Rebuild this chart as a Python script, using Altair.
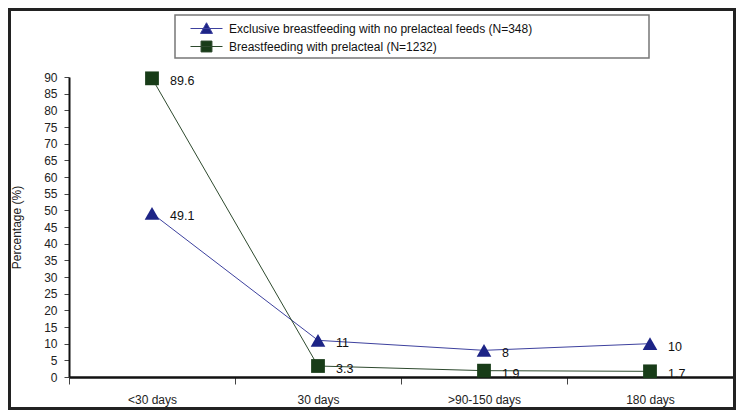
import altair as alt
import pandas as pd

# ---- data ----
categories = ["<30 days", "30 days", ">90-150 days", "180 days"]
series_names = [
    "Exclusive breastfeeding with no prelacteal feeds (N=348)",
    "Breastfeeding with prelacteal (N=1232)",
]
exclusive_pct = [49.1, 11, 8, 10]
exclusive_lbl = ["49.1", "11", "8", "10"]
prelacteal_pct = [89.6, 3.3, 1.9, 1.7]
prelacteal_lbl = ["89.6", "3.3", "1.9", "1.7"]
y_ticks = list(range(0, 95, 5))

rows = []
for c, v, l in zip(categories, exclusive_pct, exclusive_lbl):
    rows.append({"period": c, "series": series_names[0], "pct": v, "label": l})
for c, v, l in zip(categories, prelacteal_pct, prelacteal_lbl):
    rows.append({"period": c, "series": series_names[1], "pct": v, "label": l})
df = pd.DataFrame(rows)

# ---- styling ----
FONT = "Liberation Sans"
W, H = 664, 300
PAD = {"left": 61, "top": 69, "right": 3, "bottom": 33}
line_colors = ["#3d419e", "#2e4a2e"]
marker_colors = ["#1d2486", "#183c18"]
marker_sizes = [215, 190]
marker_shapes = ["triangle-up", "square"]
legend_paths = [
    "M-2,0H2M0,-0.72L0.75,0.62H-0.75Z",
    "M-2,0H2M-0.68,-0.68H0.68V0.68H-0.68Z",
]

x_enc = alt.X(
    "period:N",
    sort=categories,
    bandPosition=0.5,
    scale=alt.Scale(type="band", domain=categories, paddingInner=0, paddingOuter=0),
    axis=alt.Axis(
        title=None,
        tickBand="extent",
        labelAngle=0,
        labelPadding=10,
        labelFontSize=12,
        labelColor="#222",
        tickSize=7,
        tickColor="#444",
        domainColor="#111",
        domainWidth=2.5,
        grid=False,
    ),
)
y_enc = alt.Y(
    "pct:Q",
    scale=alt.Scale(domain=[0, 90], nice=False),
    axis=alt.Axis(
        values=y_ticks,
        title="Percentage (%)",
        titleFontSize=12,
        titleFontWeight="normal",
        titleColor="#222",
        titlePadding=20,
        labelFontSize=12,
        labelColor="#222",
        labelPadding=7,
        tickSize=5,
        tickColor="#444",
        domainColor="#111",
        domainWidth=2,
        grid=False,
    ),
)

base = alt.Chart(df)

lines = base.mark_line(strokeWidth=1).encode(
    x=x_enc,
    y=y_enc,
    color=alt.Color("series:N", scale=alt.Scale(domain=series_names, range=line_colors), legend=None),
)

points = base.mark_point(filled=True, opacity=1).encode(
    x=x_enc,
    y=y_enc,
    color=alt.Color("series:N", scale=alt.Scale(domain=series_names, range=marker_colors), legend=None),
    shape=alt.Shape("series:N", scale=alt.Scale(domain=series_names, range=marker_shapes), legend=None),
    size=alt.Size("series:N", scale=alt.Scale(domain=series_names, range=marker_sizes), legend=None),
)

labels = base.mark_text(align="left", baseline="middle", dx=18, dy=3, fontSize=12.5, font=FONT, color="#111").encode(
    x=x_enc,
    y=y_enc,
    text="label:N",
)

legend_kw = dict(
    orient="none",
    legendX=129,
    legendY=-57,
    title=None,
    labelFont=FONT,
    labelFontSize=12,
    labelColor="#111",
    labelOffset=14,
    rowPadding=2,
    padding=0,
    symbolSize=256,
    symbolStrokeWidth=1,
    labelLimit=600,
)
legend_layer = base.transform_filter("datum.pct < -1000").mark_point(filled=False, opacity=1, size=256).encode(
    x=x_enc,
    y=y_enc,
    color=alt.Color("series:N", scale=alt.Scale(domain=series_names, range=line_colors), legend=alt.Legend(**legend_kw)),
    fill=alt.Fill("series:N", scale=alt.Scale(domain=series_names, range=marker_colors), legend=alt.Legend(**legend_kw)),
    shape=alt.Shape("series:N", scale=alt.Scale(domain=series_names, range=legend_paths), legend=alt.Legend(**legend_kw)),
)

one = pd.DataFrame({"k": [0]})
legend_box = alt.Chart(one).mark_rect(fillOpacity=0, stroke="#777", strokeWidth=1.5).encode(
    x=alt.value(106), x2=alt.value(580), y=alt.value(-62), y2=alt.value(-19)
)
frame = alt.Chart(one).mark_rect(fillOpacity=0, stroke="#222", strokeWidth=3).encode(
    x=alt.value(-PAD["left"] + 1.5),
    x2=alt.value(W + PAD["right"] - 1.5),
    y=alt.value(-PAD["top"] + 1.5),
    y2=alt.value(H + PAD["bottom"] - 1.5),
)

chart = (
    alt.layer(frame, legend_box, lines, points, labels, legend_layer)
    .resolve_scale(color="independent", fill="independent", shape="independent", size="independent")
    .properties(width=W, height=H, padding=PAD, autosize=alt.AutoSizeParams(type="none"), background="white")
    .configure(font=FONT)
    .configure_view(stroke=None)
)

chart.save("out.html", embed_options={"renderer": "svg", "actions": False})
